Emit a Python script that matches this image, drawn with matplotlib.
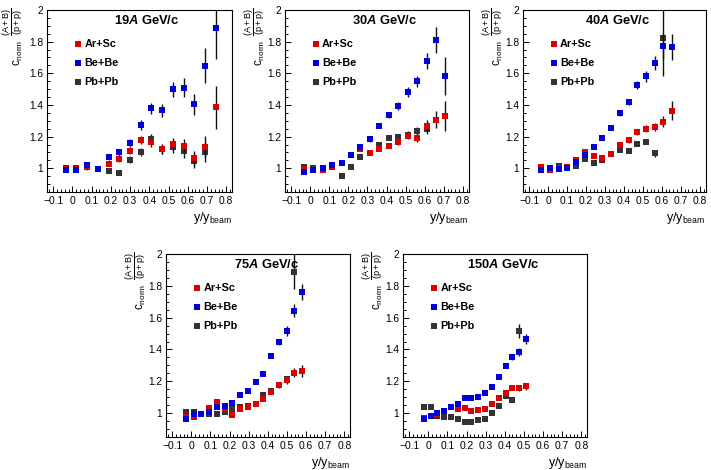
import matplotlib
matplotlib.use("Agg")
import matplotlib.pyplot as plt
from matplotlib.ticker import MultipleLocator, FixedLocator, FuncFormatter

plt.rcParams['font.family'] = ['Liberation Sans', 'DejaVu Sans']
plt.rcParams['mathtext.fontset'] = 'custom'
plt.rcParams['mathtext.rm'] = 'Liberation Sans'
plt.rcParams['mathtext.it'] = 'Liberation Sans:italic'
plt.rcParams['mathtext.bf'] = 'Liberation Sans:bold'
plt.rcParams['mathtext.bfit'] = 'Liberation Sans:italic:bold'

# ---------------- data ----------------
titles = ["19", "30", "40", "75", "150"]
series_names = ["Ar+Sc", "Be+Be", "Pb+Pb"]

# 19A GeV/c
x19 = [-0.035, 0.021, 0.076, 0.132, 0.188, 0.244, 0.299, 0.355, 0.411, 0.466, 0.522, 0.578, 0.634, 0.689, 0.745]
arsc19 = [0.994, 0.998, 1.008, 0.996, 1.029, 1.057, 1.111, 1.180, 1.163, 1.122, 1.155, 1.142, 1.063, 1.136, 1.385]
arsc19_err = [0.012, 0.012, 0.012, 0.012, 0.015, 0.017, 0.020, 0.025, 0.028, 0.030, 0.035, 0.040, 0.045, 0.065, 0.135]
bebe19 = [0.990, 0.990, 1.019, 0.997, 1.071, 1.100, 1.161, 1.274, 1.379, 1.366, 1.498, 1.510, 1.403, 1.648, 1.888]
bebe19_err = [0.015, 0.015, 0.015, 0.015, 0.020, 0.022, 0.025, 0.030, 0.035, 0.040, 0.050, 0.060, 0.065, 0.110, 0.200]
pbpb19 = [1.000, 1.000, 1.006, 0.997, 0.983, 0.971, 1.055, 1.100, 1.188, 1.120, 1.132, 1.111, 1.044, 1.103]
pbpb19_err = [0.015, 0.015, 0.015, 0.012, 0.015, 0.015, 0.020, 0.025, 0.030, 0.030, 0.035, 0.045, 0.045, 0.065]

# 30A GeV/c
x30 = [-0.034, 0.016, 0.065, 0.115, 0.164, 0.214, 0.263, 0.313, 0.362, 0.412, 0.461, 0.511, 0.560, 0.610, 0.659, 0.709]
arsc30 = [0.995, 0.990, 0.990, 1.017, 1.033, 1.085, 1.121, 1.096, 1.120, 1.142, 1.168, 1.207, 1.193, 1.266, 1.308, 1.329]
arsc30_err = [0.010, 0.010, 0.010, 0.010, 0.010, 0.012, 0.012, 0.012, 0.012, 0.015, 0.018, 0.020, 0.025, 0.040, 0.055, 0.095]
bebe30 = [0.978, 0.987, 1.000, 1.020, 1.036, 1.086, 1.132, 1.184, 1.270, 1.335, 1.396, 1.481, 1.551, 1.677, 1.810, 1.585]
bebe30_err = [0.010, 0.010, 0.010, 0.010, 0.010, 0.012, 0.015, 0.015, 0.018, 0.020, 0.025, 0.030, 0.035, 0.050, 0.080, 0.120]
pbpb30 = [1.005, 1.004, 0.995, 1.005, 0.954, 1.006, 1.071, 1.096, 1.149, 1.193, 1.197, 1.213, 1.237, 1.245]
pbpb30_err = [0.010, 0.010, 0.010, 0.010, 0.010, 0.010, 0.010, 0.010, 0.012, 0.012, 0.015, 0.020, 0.025, 0.030]

# 40A GeV/c
x40 = [-0.036, 0.010, 0.056, 0.102, 0.148, 0.194, 0.240, 0.286, 0.332, 0.378, 0.424, 0.470, 0.516, 0.562, 0.608, 0.654]
arsc40 = [1.008, 0.992, 1.000, 1.008, 1.054, 1.100, 1.080, 1.067, 1.092, 1.147, 1.176, 1.230, 1.251, 1.262, 1.293, 1.362]
arsc40_err = [0.010, 0.010, 0.010, 0.010, 0.010, 0.010, 0.010, 0.012, 0.012, 0.012, 0.015, 0.018, 0.020, 0.025, 0.035, 0.060]
bebe40 = [0.987, 1.002, 0.998, 1.000, 1.040, 1.086, 1.134, 1.193, 1.255, 1.348, 1.419, 1.527, 1.582, 1.667, 1.772, 1.766]
bebe40_err = [0.010, 0.010, 0.010, 0.010, 0.010, 0.012, 0.012, 0.014, 0.015, 0.020, 0.020, 0.025, 0.035, 0.045, 0.080, 0.085]
pbpb40 = [0.995, 0.987, 1.015, 1.000, 1.015, 1.057, 1.034, 1.050, 1.090, 1.117, 1.107, 1.153, 1.168, 1.094, 1.820]
pbpb40_err = [0.010, 0.010, 0.010, 0.010, 0.010, 0.010, 0.010, 0.010, 0.010, 0.012, 0.012, 0.015, 0.015, 0.020, 0.240]

# 75A GeV/c
x75 = [-0.028, 0.012, 0.053, 0.093, 0.134, 0.174, 0.215, 0.255, 0.296, 0.336, 0.377, 0.417, 0.458, 0.498, 0.539, 0.579]
arsc75 = [0.973, 0.977, 0.995, 1.030, 1.072, 1.025, 0.990, 1.027, 1.036, 1.057, 1.086, 1.131, 1.179, 1.206, 1.255, 1.265]
arsc75_err = [0.008, 0.008, 0.008, 0.008, 0.008, 0.008, 0.008, 0.008, 0.008, 0.010, 0.010, 0.012, 0.015, 0.020, 0.030, 0.040]
bebe75 = [0.960, 0.992, 0.994, 1.004, 1.040, 1.044, 1.063, 1.116, 1.137, 1.196, 1.248, 1.360, 1.446, 1.516, 1.644, 1.762]
bebe75_err = [0.008, 0.008, 0.008, 0.008, 0.008, 0.008, 0.008, 0.008, 0.010, 0.010, 0.012, 0.015, 0.020, 0.030, 0.040, 0.050]
pbpb75 = [1.006, 1.006, 0.995, 0.996, 0.992, 1.008, 1.025, 1.038, 1.042, 1.059, 1.116, 1.141, 1.175, 1.215, 1.888]
pbpb75_err = [0.008, 0.008, 0.008, 0.008, 0.008, 0.008, 0.008, 0.008, 0.008, 0.010, 0.010, 0.012, 0.015, 0.020, 0.110]

# 150A GeV/c
x150 = [-0.024, 0.012, 0.047, 0.083, 0.119, 0.154, 0.190, 0.225, 0.261, 0.297, 0.332, 0.368, 0.404, 0.439, 0.475, 0.511]
arsc150 = [0.971, 0.985, 0.995, 1.015, 1.040, 1.023, 1.030, 1.015, 1.017, 1.027, 1.057, 1.093, 1.124, 1.160, 1.156, 1.168]
arsc150_err = [0.006, 0.006, 0.006, 0.006, 0.006, 0.006, 0.006, 0.006, 0.006, 0.006, 0.008, 0.008, 0.010, 0.012, 0.015, 0.020]
bebe150 = [0.962, 0.985, 1.000, 1.013, 1.040, 1.055, 1.093, 1.095, 1.101, 1.124, 1.162, 1.225, 1.299, 1.352, 1.387, 1.465]
bebe150_err = [0.006, 0.006, 0.006, 0.006, 0.006, 0.006, 0.006, 0.006, 0.006, 0.008, 0.010, 0.012, 0.015, 0.020, 0.025, 0.030]
pbpb150 = [1.038, 1.038, 0.983, 0.973, 0.975, 0.960, 0.947, 0.945, 0.958, 0.960, 0.998, 1.042, 1.105, 1.080, 1.514]
pbpb150_err = [0.006, 0.006, 0.006, 0.006, 0.006, 0.006, 0.006, 0.006, 0.006, 0.006, 0.008, 0.008, 0.010, 0.012, 0.045]

panels = [
    (x19, arsc19, arsc19_err, bebe19, bebe19_err, pbpb19, pbpb19_err),
    (x30, arsc30, arsc30_err, bebe30, bebe30_err, pbpb30, pbpb30_err),
    (x40, arsc40, arsc40_err, bebe40, bebe40_err, pbpb40, pbpb40_err),
    (x75, arsc75, arsc75_err, bebe75, bebe75_err, pbpb75, pbpb75_err),
    (x150, arsc150, arsc150_err, bebe150, bebe150_err, pbpb150, pbpb150_err),
]

xticks = [-0.1, 0.0, 0.1, 0.2, 0.3, 0.4, 0.5, 0.6, 0.7, 0.8]
yticks = [1.0, 1.2, 1.4, 1.6, 1.8, 2.0]

# ---------------- style ----------------
col_red = '#dd0000'
col_blue = '#0000dd'
col_black = '#333333'
W, H = 711, 470
fig = plt.figure(figsize=(W / 100, H / 100), dpi=100)

boxes = [
    (46.5, 10, 185.5, 182),
    (284.5, 10, 184, 182),
    (522.5, 10, 183, 182),
    (165.5, 254, 184.5, 183),
    (402.5, 254, 184.5, 183),
]
title_x = [0.54, 0.547, 0.52, 0.55, 0.545]
frac_dx = [-34, -30, -30, -30, -30]    # px offset of fraction centre from axis
cnorm_dx = [-28, -24, -24, -24, -24]   # px offset of c_norm centre from axis


def fmt(v, pos):
    s = f"{v:.1f}"
    if s.endswith(".0"):
        s = s[:-2]
    return s.replace("-", "\u2212")


for i, (box, data) in enumerate(zip(boxes, panels)):
    l, t, w, h = box
    ax = fig.add_axes([l / W, 1 - (t + h) / H, w / W, h / H])
    x, ar, are, be, bee, pb, pbe = data
    ms = 3.9
    ax.errorbar(x[:len(pb)], pb, yerr=pbe, fmt='s', color=col_black, ecolor='#111111',
                elinewidth=1.0, capsize=0, markersize=ms, markeredgewidth=0, zorder=3)
    ax.errorbar(x[:len(ar)], ar, yerr=are, fmt='s', color=col_red, ecolor='#111111',
                elinewidth=1.0, capsize=0, markersize=ms, markeredgewidth=0, zorder=4)
    ax.errorbar(x[:len(be)], be, yerr=bee, fmt='s', color=col_blue, ecolor='#111111',
                elinewidth=1.0, capsize=0, markersize=ms, markeredgewidth=0, zorder=5)

    ax.set_xlim(-0.135, 0.83)
    ax.set_ylim(0.85, 2.0)
    ax.xaxis.set_major_locator(FixedLocator(xticks))
    ax.xaxis.set_minor_locator(MultipleLocator(0.02))
    ax.yaxis.set_major_locator(FixedLocator(yticks))
    ax.yaxis.set_minor_locator(MultipleLocator(0.05))
    ax.xaxis.set_major_formatter(FuncFormatter(fmt))
    ax.yaxis.set_major_formatter(FuncFormatter(fmt))
    ax.tick_params(which='both', direction='in', top=False, right=False,
                   labelsize=7.4, width=0.7, color='black')
    ax.tick_params(axis='x', which='major', length=4.0, pad=3)
    ax.tick_params(axis='x', which='minor', length=2.0)
    ax.tick_params(axis='y', which='major', length=4.0, pad=2.5)
    ax.tick_params(axis='y', which='minor', length=2.0)
    for sp in ax.spines.values():
        sp.set_linewidth(0.8)

    ax.text(title_x[i], 0.945, titles[i] + r"$\mathbfit{A}$ GeV/c", transform=ax.transAxes,
            ha='center', va='center', fontsize=9.3, fontweight='bold')

    # legend
    ly = [0.813, 0.709, 0.604]
    for name, c, yy in zip(series_names, [col_red, col_blue, col_black], ly):
        ax.plot([0.17], [yy], 's', color=c, markersize=ms, markeredgewidth=0,
                transform=ax.transAxes, clip_on=False)
        ax.text(0.205, yy, name, transform=ax.transAxes, ha='left', va='center',
                fontsize=7.8, fontweight='bold')

    # y title: c_norm (A+B)/(p+p), rotated
    ax.text(frac_dx[i] / w, 1.015, r"$\dfrac{\mathrm{(A+B)}}{\mathrm{(p+p)}}$",
            transform=ax.transAxes, rotation=90, ha='center', va='top', fontsize=6.6)
    ax.text(cnorm_dx[i] / w, 0.835, r"$\mathrm{c_{norm}}$",
            transform=ax.transAxes, rotation=90, ha='center', va='top', fontsize=8.5)
    ax.text(1.0, -0.10, r"$\mathrm{y/y_{beam}}$", transform=ax.transAxes,
            ha='right', va='top', fontsize=9)

fig.savefig("out.png", dpi=100)
